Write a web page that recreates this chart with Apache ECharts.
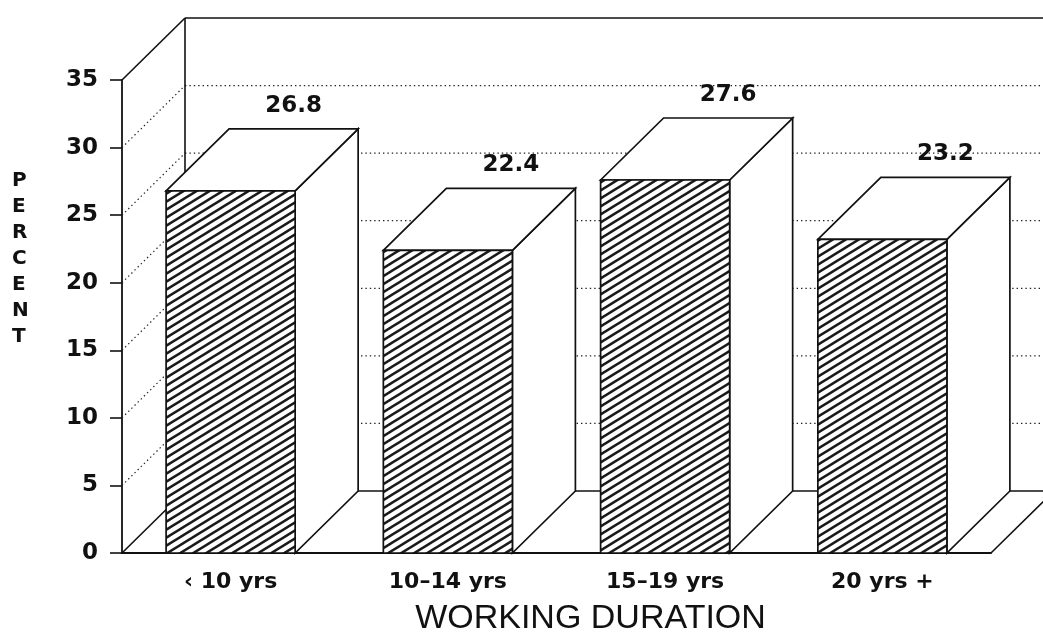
<!DOCTYPE html>
<html>
<head>
<meta charset="utf-8">
<script src="https://cdn.jsdelivr.net/npm/echarts@6/dist/echarts.min.js"></script>
<style>
  html, body { margin: 0; padding: 0; background: #fff; }
  #chart { width: 1043px; height: 641px; }
</style>
</head>
<body>
<div id="chart"></div>
<script>
// Share of workers by working duration
const categories = ['‹ 10 yrs', '10–14 yrs', '15–19 yrs', '20 yrs +'];
const percents = [26.8, 22.4, 27.6, 23.2];
const yMin = 0, yMax = 35, yStep = 5;
const wallLevels = [5, 10, 15, 20, 25, 30];

// oblique depth of the box (screen pixels)
const DX = 63, DY = -62;
const INK = '#111';
const BAR_FRACTION = 0.594;
const LABEL_FONT = 'DejaVu Sans';

// diagonal hatch tile for the bar fronts
function hatchTile() {
  const w = 13, h = 8;
  const c = document.createElement('canvas');
  c.width = w; c.height = h;
  const g = c.getContext('2d');
  g.fillStyle = '#fff';
  g.fillRect(0, 0, w, h);
  g.strokeStyle = '#1a1a1a';
  g.lineWidth = 2.5;
  for (let k = -1; k <= 1; k++) {
    g.beginPath();
    g.moveTo(-w, 2 * h + k * h);
    g.lineTo(2 * w, -h + k * h);
    g.stroke();
  }
  return c;
}
const hatch = { image: hatchTile(), repeat: 'repeat' };

function seg(x1, y1, x2, y2, style) {
  return { type: 'line', shape: { x1, y1, x2, y2 }, style };
}

// back wall, side wall and floor of the box
function renderFrame(params, api) {
  const cs = params.coordSys;
  const x0 = cs.x, x1 = cs.x + cs.width;
  const yAt = v => api.coord([0, v])[1];
  const solid = { stroke: INK, lineWidth: 1.6, fill: null };
  const dotted = { stroke: '#222', lineWidth: 1.2, lineDash: [1.4, 3], fill: null };
  const children = [];
  wallLevels.forEach(v => {
    const yf = yAt(v);
    children.push(seg(x0, yf, x0 + DX, yf + DY, dotted));
    children.push(seg(x0 + DX, yf + DY, x1 + DX, yf + DY, dotted));
  });
  const yT = yAt(yMax), yB = yAt(yMin);
  children.push(seg(x0, yT, x0 + DX, yT + DY, solid));
  children.push(seg(x0 + DX, yT + DY, x1 + DX, yT + DY, solid));
  children.push(seg(x0 + DX, yT + DY, x0 + DX, yB + DY, solid));
  children.push(seg(x0, yB, x0 + DX, yB + DY, solid));
  children.push(seg(x0 + DX, yB + DY, x1 + DX, yB + DY, solid));
  children.push(seg(x1, yB, x1 + DX, yB + DY, solid));
  return { type: 'group', children };
}

// one oblique 3D bar: side, top, hatched front and its value
function renderBar(params, api) {
  const i = api.value(0), v = api.value(1);
  const base = api.coord([i, 0]);
  const top = api.coord([i, v]);
  const bw = api.size([1, 0])[0] * BAR_FRACTION;
  const xl = base[0] - bw / 2, xr = base[0] + bw / 2;
  const yb = base[1], yt = top[1];
  const edge = { stroke: INK, lineWidth: 1.7 };
  return {
    type: 'group',
    children: [
      { type: 'polygon',
        shape: { points: [[xr, yt], [xr + DX, yt + DY], [xr + DX, yb + DY], [xr, yb]] },
        style: Object.assign({ fill: '#fff' }, edge) },
      { type: 'polygon',
        shape: { points: [[xl, yt], [xl + DX, yt + DY], [xr + DX, yt + DY], [xr, yt]] },
        style: Object.assign({ fill: '#fff' }, edge) },
      { type: 'rect',
        shape: { x: xl, y: yt, width: bw, height: yb - yt },
        style: Object.assign({ fill: hatch }, edge) },
      { type: 'text',
        x: base[0] + DX, y: yt + DY - 23,
        style: {
          text: v.toFixed(1), align: 'center', verticalAlign: 'middle',
          fontFamily: LABEL_FONT, fontWeight: 'bold', fontSize: 23, fill: INK
        } }
    ]
  };
}

const chart = echarts.init(document.getElementById('chart'), null, { renderer: 'canvas' });
chart.setOption({
  animation: false,
  backgroundColor: '#fff',
  grid: { left: 122, right: 52, top: 80, bottom: 86 },
  xAxis: {
    type: 'category',
    data: categories,
    axisLine: { show: true, lineStyle: { color: INK, width: 1.8 } },
    axisTick: { show: false },
    axisLabel: {
      margin: 18, color: INK, fontFamily: LABEL_FONT, fontWeight: 'bold', fontSize: 22
    },
    splitLine: { show: false },
    name: 'WORKING DURATION',
    nameLocation: 'middle',
    nameGap: 49,
    nameTextStyle: {
      color: INK, fontFamily: 'Liberation Sans', fontSize: 34,
      padding: [0, 0, 0, 68]
    }
  },
  yAxis: {
    type: 'value',
    min: yMin, max: yMax, interval: yStep,
    axisLine: { show: true, lineStyle: { color: INK, width: 1.8 } },
    axisTick: { show: true, inside: false, length: 12, lineStyle: { color: INK, width: 1.6 } },
    axisLabel: {
      margin: 24, color: INK, fontFamily: LABEL_FONT, fontWeight: 'bold', fontSize: 23
    },
    splitLine: { show: false }
  },
  graphic: [{
    type: 'text',
    left: 12, top: 168,
    style: {
      text: 'P\nE\nR\nC\nE\nN\nT',
      fontFamily: LABEL_FONT, fontWeight: 'bold', fontSize: 20, lineHeight: 26,
      fill: INK, align: 'center'
    }
  }],
  series: [
    {
      type: 'custom',
      renderItem: renderFrame,
      data: [[0, 0]],
      silent: true,
      z: 1
    },
    {
      type: 'custom',
      renderItem: renderBar,
      data: percents.map((p, i) => [i, p]),
      z: 2
    }
  ]
});
</script>
</body>
</html>
